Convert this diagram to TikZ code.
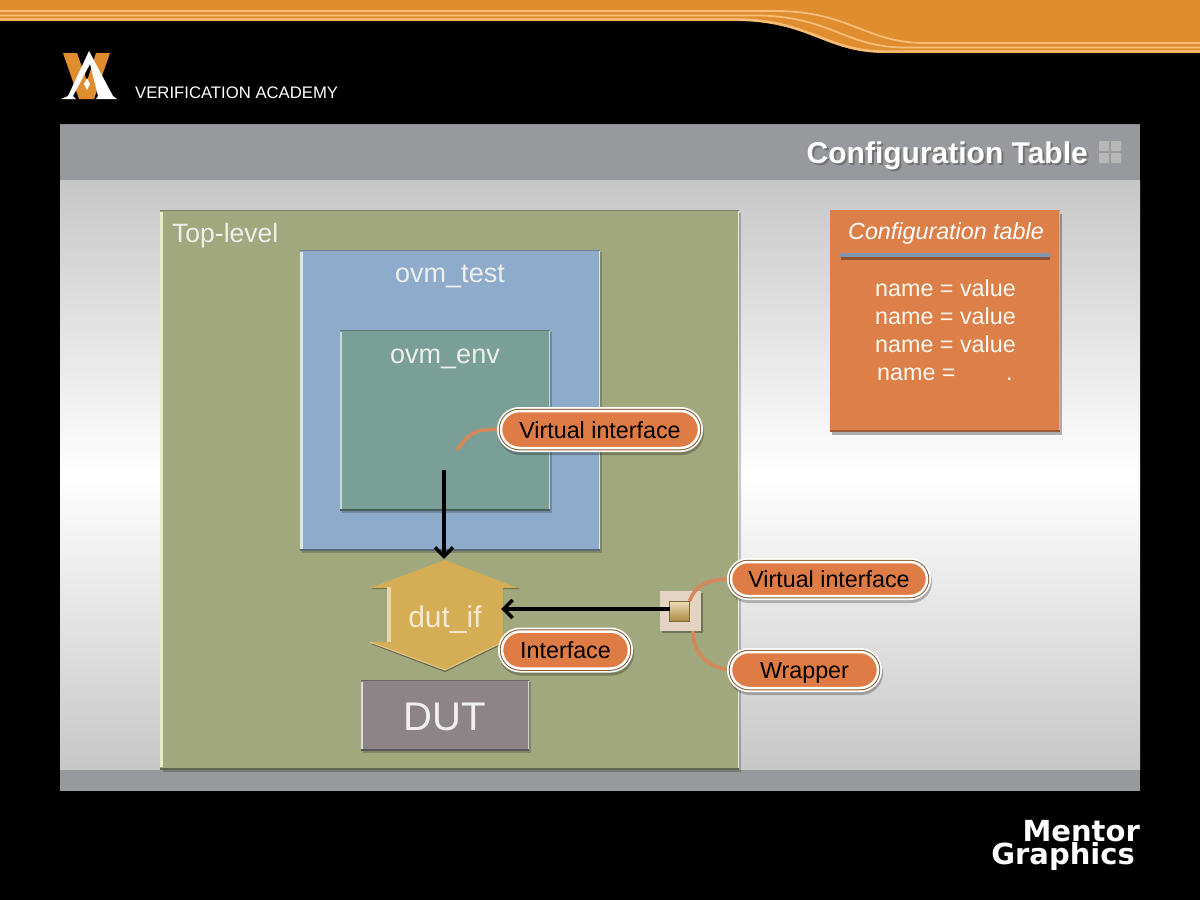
\documentclass[tikz,border=0pt]{standalone}
\usepackage{fontspec}
\setmainfont{Liberation Sans}
\newfontfamily\logofont{DejaVu Sans}
\usetikzlibrary{arrows.meta,shapes.misc,calc}
\definecolor{orangeA}{HTML}{E08D30}
\definecolor{stripeA}{HTML}{F6BE78}
\definecolor{bandgrey}{HTML}{98999C}
\definecolor{topgreen}{HTML}{A2A87E}
\definecolor{testblue}{HTML}{8FABCB}
\definecolor{envgreen}{HTML}{7A9F96}
\definecolor{dutgrey}{HTML}{8D8488}
\definecolor{cfgorange}{HTML}{DC7F48}
\definecolor{pillorange}{HTML}{DF7C45}
\definecolor{wire}{HTML}{D6875A}
\definecolor{ifgold}{HTML}{D4AD55}
\definecolor{softtext}{HTML}{EEF0EC}
\pgfdeclarelayer{front}
\pgfsetlayers{main,front}
\pgfdeclareverticalshading{panelshade}{100bp}{
  color(0bp)=(black!22); color(25bp)=(black!22); color(50bp)=(white); color(75bp)=(black!22); color(100bp)=(black!22)}
\tikzset{
  panelbox/.style={draw=none,inner sep=0pt,outer sep=0pt,anchor=north west},
  pill/.style={rounded rectangle,fill=pillorange,draw=white,line width=2.5pt,inner sep=0pt,outer sep=0pt,text=black,font=\fontsize{23.3}{27}\selectfont,text height=20pt,text depth=3pt,
    preaction={draw=black,draw opacity=.25,line width=8pt,transform canvas={xshift=1pt,yshift=-3pt}},
    preaction={draw=white,line width=8pt},
    preaction={draw=brown!70!black,line width=4.5pt}},
  wireline/.style={draw=wire,line width=3.5pt},
  flow/.style={draw=black,line width=3.5pt,-{Straight Barb[length=9pt,width=18pt,line width=3.5pt]}},
  boxlabel/.style={text=softtext,inner sep=0pt,font=\fontsize{27}{30}\selectfont},
  rowtext/.style={text=white!95!orange,inner sep=0pt,font=\fontsize{23.3}{26}\selectfont,anchor=base west},
  logotext/.style={anchor=base east,text=white,inner sep=0pt,font=\logofont\bfseries\fontsize{29}{29}\selectfont},
}
\begin{document}
\begin{tikzpicture}[x=1pt,y=-1pt]
\useasboundingbox (0,0) rectangle (1200,900);
\fill[black] (0,0) rectangle (1200,900);
% top band
\fill[orangeA] (0,0) -- (1200,0) -- (1200,53) -- (885,53) .. controls (825,53) and (810,21) .. (735,21) -- (0,21) -- cycle;
\draw[stripeA,line width=1.8pt] (0,11) -- (775,11) .. controls (850,11) and (865,43) .. (925,43) -- (1200,43);
\draw[stripeA,line width=1.8pt] (0,15.5) -- (755,15.5) .. controls (830,15.5) and (845,47.5) .. (905,47.5) -- (1200,47.5);
\draw[stripeA,line width=2.4pt] (0,19.5) -- (735,19.5) .. controls (810,19.5) and (825,51.5) .. (885,51.5) -- (1200,51.5);
% Verification Academy logo
\fill[orangeA] (63,53) -- (77,53) -- (87,81) -- (96,53) -- (110,53) -- (94,99) -- (79,99) -- cycle;
\fill[white] (89,51) -- (113,96) -- (117,99) -- (96,99) -- (98,96) -- (90,64) -- (73,96) -- (76,99) -- (61,99) -- (68,96) -- cycle;
\fill[white] (87,78) -- (90,84) -- (87,90) -- (84,84) -- cycle;
\node[anchor=west,text=white,inner sep=0pt,font=\fontsize{16.7}{20}\selectfont] (academy) at (135,93) {VERIFICATION ACADEMY};
% Mentor Graphics logo
\node[logotext] (mentor) at (1140,841) {Mentor};
\node[logotext] (graphics) at (1135,864) {Graphics};
% panel
\shade[shading=panelshade] (60,180) rectangle (1140,770);
\fill[bandgrey] (60,125) rectangle (1140,180);
\fill[bandgrey] (60,770) rectangle (1140,791);
\draw[black!45,line width=1pt] (60,124.5) -- (1140,124.5);
\node[anchor=east,text=black!55,inner sep=0pt,font=\bfseries\fontsize{30}{34}\selectfont] at (1090,158) {Configuration Table};
\node[anchor=east,text=white,inner sep=0pt,font=\bfseries\fontsize{30}{34}\selectfont] (title) at (1088,156) {Configuration Table};
\fill[black!28] (1099,141) rectangle (1109,151) (1111,141) rectangle (1121,151) (1099,153) rectangle (1109,163) (1111,153) rectangle (1121,163);
% Top-level
\fill[black,opacity=.22] (163,213) rectangle (741,772);
\node[panelbox,fill=topgreen,minimum width=579pt,minimum height=559pt] (toplevel) at (160,210) {};
\draw[black!25!topgreen,line width=1.2pt] (160,210.6) -- (739,210.6);
\draw[white!75!topgreen,line width=1.2pt] (738.6,211) -- (738.6,768);
\draw[white!75!topgreen!90!yellow,line width=2.5pt] (161.5,212) -- (161.5,767);
\draw[black!40!topgreen,line width=2pt] (160,768.5) -- (739,768.5);
\node[anchor=base west,boxlabel,font=\fontsize{26.5}{30}\selectfont] (toplabel) at (172,242) {Top-level};
% ovm_test
\fill[black,opacity=.2] (302,252) rectangle (602,553);
\node[panelbox,fill=testblue,minimum width=300pt,minimum height=301pt] (test) at (300,250) {};
\draw[black!25!testblue,line width=1.2pt] (300,250.6) -- (600,250.6);
\draw[white!70!testblue,line width=1.2pt] (599.4,251) -- (599.4,549);
\draw[white!70!testblue,line width=2.5pt] (301.5,252) -- (301.5,549);
\draw[black!40!testblue,line width=2.5pt] (300,549.8) -- (600,549.8);
\node[boxlabel] (testlabel) at (450,276) {ovm\_test};
% ovm_env
\fill[black,opacity=.2] (342,332) rectangle (552,513);
\node[panelbox,fill=envgreen,minimum width=210pt,minimum height=181pt] (env) at (340,330) {};
\draw[black!25!envgreen,line width=1.2pt] (340,330.6) -- (550,330.6);
\draw[white!60!envgreen,line width=1.2pt] (549.4,331) -- (549.4,509);
\draw[white!60!envgreen,line width=2pt] (341.2,332) -- (341.2,509);
\draw[black!40!envgreen,line width=2.5pt] (340,509.8) -- (550,509.8);
\node[boxlabel] (envlabel) at (445,359) {ovm\_env};
% dut_if
\fill[black!40!topgreen] (445,562) -- (520,589) -- (503,589) -- (503,644) -- (445,672) -- (371,644) -- (388,644) -- (388,589) -- (371,589) -- cycle;
\fill[ifgold] (445,560) -- (518,588) -- (503,588) -- (503,642) -- (445,670) -- (370,642) -- (387,642) -- (387,588) -- (370,588) -- cycle;
\fill[ifgold!50!white] (387,586.5) rectangle (391,642);
\draw[ifgold!70!white,line width=1.2pt] (370,642) -- (445,670) -- (503,642);
\node[text=ifgold!25!white,inner sep=0pt,minimum width=116pt,minimum height=110pt,text height=26pt,text depth=2pt,font=\fontsize{30}{33}\selectfont] (dutif) at (445,615) {dut\_if};
% DUT
\fill[black,opacity=.2] (363,682) rectangle (531,753);
\node[panelbox,fill=dutgrey,minimum width=168pt,minimum height=71pt] (dut) at (361,680) {};
\draw[black!25!dutgrey,line width=1.2pt] (361,680.6) -- (529,680.6);
\draw[white!60!dutgrey,line width=1.2pt] (528.4,681) -- (528.4,749);
\draw[white!70!dutgrey,line width=2pt] (362.2,682) -- (362.2,749);
\draw[black!35!dutgrey,line width=2.5pt] (361,749.8) -- (529,749.8);
\node[text=white!88!dutgrey,inner sep=0pt,font=\fontsize{40}{44}\selectfont] (dutlabel) at (445,717) {DUT};
% configuration table
\fill[black,opacity=.3] (832,214) rectangle (1062,435);
\node[panelbox,fill=cfgorange,minimum width=230pt,minimum height=222pt] (cfg) at (830,210) {};
\draw[white!35!cfgorange,line width=1.2pt] (1059.4,211) -- (1059.4,431);
\draw[black!30!cfgorange,line width=2pt] (830,431) -- (1060,431);
\node[text=white,inner sep=0pt,font=\itshape\fontsize{23.3}{26}\selectfont] (cfgtitle) at (946,233) {Configuration table};
\fill[black!35!cfgorange] (841,255) rectangle (1050,260);
\fill[black!10!testblue!80!gray] (840,253) rectangle (1050,257);
\node[rowtext] (row1) at (875,296) {name = value};
\node[rowtext] (row2) at (875,324) {name = value};
\node[rowtext] (row3) at (875,352) {name = value};
\node[rowtext] (row4a) at (877,380) {name =};
\node[rowtext] (row4b) at (1006,380) {.};
% wrapper
\fill[black,opacity=.3] (662,593) rectangle (703,633);
\node[fill=orange!15!white!90!black,inner sep=0pt,outer sep=0pt,minimum width=41pt,minimum height=40pt] (wrapper) at (680.5,611) {};
\node[top color=ifgold!40!white,bottom color=ifgold!80!black,draw=ifgold!60!black,line width=1pt,inner sep=0pt,outer sep=0pt,minimum width=20pt,minimum height=20pt] (vifinner) at (679.5,611) {};
\coordinate (virtend) at (457,450);
\coordinate (arrowstart) at (444,470);
% pills
\begin{pgfonlayer}{front}
\node[pill,minimum width=198pt,minimum height=37pt] (pillA) at (600,429.5) {Virtual interface};
\node[pill,minimum width=196pt,minimum height=34pt] (pillB) at (829,579) {Virtual interface};
\node[pill,minimum width=147pt,minimum height=36pt] (pillC) at (804.5,670) {Wrapper};
\node[pill,minimum width=127pt,minimum height=37pt] (pillD) at (565.5,650) {Interface};
\end{pgfonlayer}
% connectors
\draw[wireline] (pillA.west) .. controls (475,429) and (470,432) .. (virtend);
\draw[wireline] (pillB.west) .. controls (705,579) and (695,587) .. (vifinner.north east);
\draw[wireline] ($(wrapper.south)!.6!(wrapper.south east)$) .. controls (693,650) and (705,668) .. (pillC.west);
\draw[flow,shorten >=1pt] (arrowstart) -- (arrowstart |- dutif.north);
\draw[flow,shorten >=-2pt] (vifinner.west |- 0,609) -- (dutif.east |- 0,609);
\end{tikzpicture}
\end{document}
